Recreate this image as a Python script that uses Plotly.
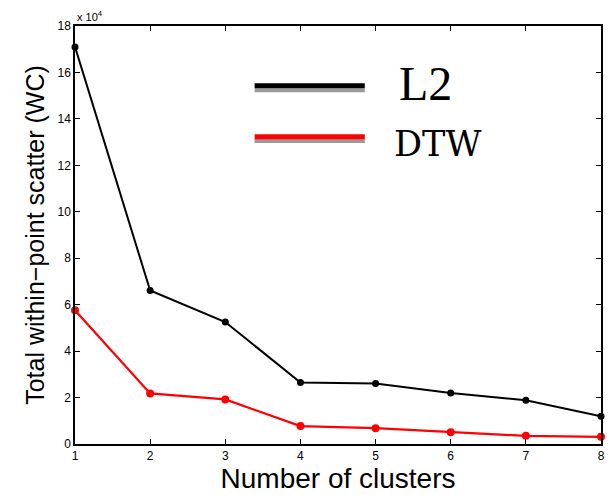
import plotly.graph_objects as go

clusters = [1, 2, 3, 4, 5, 6, 7, 8]
l2_wc = [171000, 66100, 52500, 26500, 26000, 22000, 18800, 11900]
dtw_wc = [57600, 21800, 19200, 7700, 6800, 5100, 3500, 3100]
y_tick_vals = [0, 20000, 40000, 60000, 80000, 100000, 120000, 140000, 160000, 180000]
y_tick_text = ["0", "2", "4", "6", "8", "10", "12", "14", "16", "18"]

fig = go.Figure()
fig.add_trace(go.Scatter(x=clusters, y=l2_wc, mode="lines+markers", name="L2",
                         line=dict(color="black", width=2),
                         marker=dict(color="black", size=7), cliponaxis=False))
fig.add_trace(go.Scatter(x=clusters, y=dtw_wc, mode="lines+markers", name="DTW",
                         line=dict(color="red", width=2.2),
                         marker=dict(color="red", size=8), cliponaxis=False))

axis_common = dict(showline=True, linecolor="black", linewidth=1.5, mirror="ticks",
                   ticks="inside", ticklen=5, tickcolor="black", showgrid=False,
                   zeroline=False, tickfont=dict(family="Liberation Sans, Arial", size=12, color="black"))
fig.update_xaxes(range=[1, 8], tickvals=clusters, **axis_common,
                 title=dict(text="Number of clusters", font=dict(family="Liberation Sans, Arial", size=28, color="black"),
                            standoff=4))
fig.update_yaxes(range=[0, 180000], tickvals=y_tick_vals, ticktext=y_tick_text, **axis_common,
                 title=dict(text="Total within\u2212point scatter (WC)",
                            font=dict(family="Liberation Sans, Arial", size=25, color="black"), standoff=6))

# "x 10^4" multiplier
fig.add_annotation(x=0, y=1, xref="paper", yref="paper", xanchor="left", yanchor="bottom",
                   text="x 10<sup>4</sup>", showarrow=False, yshift=1,
                   font=dict(family="Liberation Sans, Arial", size=11, color="black"))

def px(x):
    return (x - 75) / (605 - 75)

def py(y):
    return 1 - (y - 26) / (449 - 26)

# custom legend
def legend_line(y_px, color):
    x0, x1 = 256, 367
    fig.add_shape(type="line", xref="paper", yref="paper", x0=px(x0), x1=px(x1),
                  y0=py(y_px + 4.5), y1=py(y_px + 4.5), line=dict(color="#999999", width=4))
    fig.add_shape(type="line", xref="paper", yref="paper", x0=px(x0), x1=px(x1),
                  y0=py(y_px), y1=py(y_px), line=dict(color=color, width=5))

legend_line(86.5, "black")
legend_line(138, "red")
fig.add_annotation(x=px(428), y=py(84), xref="paper", yref="paper",
                   text="L2", showarrow=False, xanchor="center", yanchor="middle",
                   font=dict(family="Liberation Serif, Times New Roman", size=48, color="black"))
fig.add_annotation(x=px(440), y=py(145), xref="paper", yref="paper",
                   text="DTW", showarrow=False, xanchor="center", yanchor="middle",
                   font=dict(family="DejaVu Serif, Liberation Serif", size=35, color="black"))

fig.update_layout(width=613, height=495, margin=dict(l=75, r=8, t=26, b=46),
                  plot_bgcolor="white", paper_bgcolor="white", showlegend=False)
fig.write_html("out.html")
